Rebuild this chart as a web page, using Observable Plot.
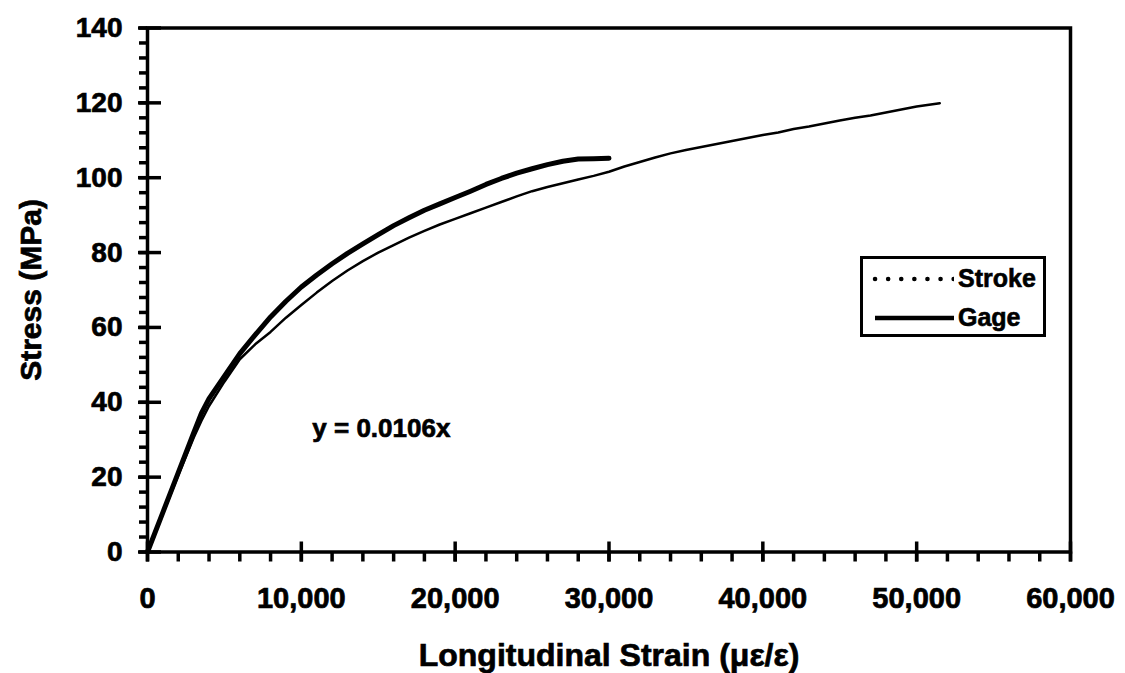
<!DOCTYPE html>
<html>
<head>
<meta charset="utf-8">
<script src="https://cdn.jsdelivr.net/npm/d3@7"></script>
<script src="https://cdn.jsdelivr.net/npm/@observablehq/plot@0.6"></script>
<style>
  html, body { margin: 0; padding: 0; background: #fff; }
  #wrap { position: relative; width: 1125px; height: 673px; font-family: "Liberation Sans", Arial, sans-serif; }
  #wrap svg text { stroke: #000; stroke-width: 0.7px; }
  #legend { position: absolute; left: 860px; top: 256px; width: 180px; height: 75px; border: 3.5px solid #000; background: #fff; }
  #legend .row { position: absolute; left: 0; display: flex; align-items: center; font-weight: bold; font-size: 25px; -webkit-text-stroke: 0.6px #000; }
</style>
</head>
<body>
<div id="wrap"></div>
<script>
// ---- Data ----
const seriesNames = ["Stroke", "Gage"];

const gageStrain = [0, 1000, 2000, 3000, 3500, 4000, 5000, 6000, 7000, 8000, 9000, 10000, 11000, 12000, 13000, 14000, 15000, 16000, 17000, 18000, 19000, 20000, 21000, 22000, 23000, 24000, 25000, 26000, 27000, 28000, 29000, 30000];
const gageStress = [0, 10.6, 21.2, 31.8, 37, 41, 47, 53, 58, 62.8, 67, 70.8, 74, 77, 79.8, 82.3, 84.8, 87.2, 89.3, 91.3, 93, 94.7, 96.4, 98.2, 99.8, 101.2, 102.4, 103.5, 104.4, 105, 105.1, 105.2];

const strokeStrain = [0, 1000, 2000, 3000, 3500, 4000, 5000, 6000, 7000, 8000, 9000, 10000, 11000, 12000, 13000, 14000, 15000, 16000, 17000, 18000, 19000, 20000, 21000, 22000, 23000, 24000, 25000, 26000, 27000, 28000, 29000, 30000, 31000, 32000, 33000, 34000, 35000, 36000, 37000, 38000, 39000, 40000, 41000, 42000, 43000, 44000, 45000, 46000, 47000, 48000, 49000, 50000, 51500];
const strokeStress = [0, 10.2, 20.5, 30.5, 35, 39, 45.5, 51.5, 55.5, 58.8, 62.6, 66, 69.3, 72.4, 75.2, 77.7, 80, 82, 84, 85.8, 87.5, 89, 90.5, 92, 93.5, 95, 96.4, 97.5, 98.5, 99.5, 100.5, 101.6, 103, 104.2, 105.4, 106.5, 107.4, 108.2, 109, 109.8, 110.6, 111.4, 112.1, 113, 113.7, 114.5, 115.3, 116, 116.6, 117.4, 118.2, 119, 119.9];

const xMajorTicks = [0, 10000, 20000, 30000, 40000, 50000, 60000];
const xMinorTicks = d3.range(0, 60001, 2000);
const yMajorTicks = [0, 20, 40, 60, 80, 100, 120, 140];
const yMinorTicks = d3.range(0, 141, 4);

const xTitle = "Longitudinal Strain (\u03bc\u03b5/\u03b5)";
const yTitle = "Stress (MPa)";
const fitLabel = "y = 0.0106x";
const fitLabelAt = {x: 15200, y: 33};

// ---- Tables ----
const gage = gageStrain.map((x, i) => ({x, y: gageStress[i]}));
const stroke = strokeStrain.map((x, i) => ({x, y: strokeStress[i]}));

const W = 1125, H = 673;
const mL = 147, mR = 55, mT = 27.5, mB = 121.5;
const plotW = W - mL - mR, plotH = H - mT - mB;

const chart = Plot.plot({
  width: W, height: H,
  marginLeft: mL, marginRight: mR, marginTop: mT, marginBottom: mB,
  x: {domain: [0, 60000]},
  y: {domain: [0, 140]},
  style: {fontFamily: "'Liberation Sans', Arial, sans-serif", fontWeight: "bold", background: "#fff", color: "#000"},
  marks: [
    // series
    Plot.line(stroke, {x: "x", y: "y", stroke: "#000", strokeWidth: 2.5}),
    Plot.line(gage, {x: "x", y: "y", stroke: "#000", strokeWidth: 5}),
    // frame
    Plot.frame({stroke: "#000", strokeWidth: 3.5}),
    // y ticks: major cross the axis, minor outward
    Plot.tickY(yMinorTicks, {y: d => d, stroke: "#000", strokeWidth: 3.5, insetLeft: -8, insetRight: plotW}),
    Plot.tickY(yMajorTicks, {y: d => d, stroke: "#000", strokeWidth: 3.5, insetLeft: -9, insetRight: plotW - 14}),
    // x ticks
    Plot.tickX(xMinorTicks, {x: d => d, stroke: "#000", strokeWidth: 3.5, insetTop: plotH, insetBottom: -10}),
    Plot.tickX(xMajorTicks, {x: d => d, stroke: "#000", strokeWidth: 3.5, insetTop: plotH - 10, insetBottom: -10}),
    // axis labels
    Plot.axisY(yMajorTicks, {tickSize: 0, tickPadding: 25, fontSize: 28, fontWeight: "bold", label: null}),
    Plot.axisX(xMajorTicks, {tickSize: 0, tickPadding: 35, fontSize: 29, fontWeight: "bold", label: null, tickFormat: d3.format(",")}),
    // titles
    Plot.text([xTitle], {frameAnchor: "bottom", dy: 114, fontSize: 32, fontWeight: "bold", text: d => d}),
    Plot.text([yTitle], {frameAnchor: "left", dx: -116, rotate: -90, textAnchor: "middle", fontSize: 30, fontWeight: "bold", text: d => d}),
    // fit annotation
    Plot.text([fitLabel], {x: () => fitLabelAt.x, y: () => fitLabelAt.y, text: d => d, fontSize: 26, fontWeight: "bold"})
  ]
});

const wrap = document.getElementById("wrap");
wrap.appendChild(chart);

// legend
const legend = document.createElement("div");
legend.id = "legend";
const rows = [
  {name: seriesNames[0], dash: "0.1,13", width: 4.5, cap: "round", top: 5},
  {name: seriesNames[1], dash: null, width: 4.5, cap: "butt", top: 44}
];
for (const r of rows) {
  const row = document.createElement("div");
  row.className = "row";
  row.style.top = r.top + "px";
  row.style.left = "9px";
  const svg = d3.create("svg").attr("width", 82).attr("height", 28);
  svg.append("line").attr("x1", 3).attr("x2", 82).attr("y1", 14).attr("y2", 14)
    .attr("stroke", "#000").attr("stroke-width", r.width).attr("stroke-dasharray", r.dash)
    .attr("stroke-linecap", r.cap);
  row.appendChild(svg.node());
  const t = document.createElement("span");
  t.textContent = r.name;
  t.style.marginLeft = "4px";
  row.appendChild(t);
  legend.appendChild(row);
}
wrap.appendChild(legend);
</script>
</body>
</html>
